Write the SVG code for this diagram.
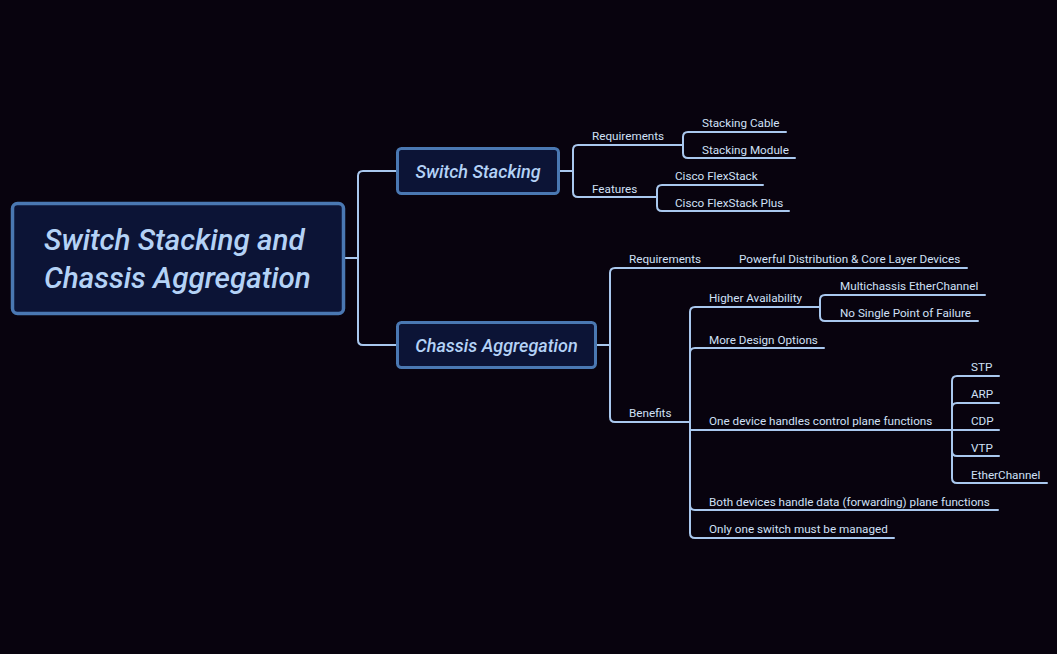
<svg xmlns="http://www.w3.org/2000/svg" width="1057" height="654" viewBox="0 0 1057 654">
<style>
.bg{fill:#08030e}
.root{fill:#0c1436;stroke:#4a78b2;stroke-width:3.5}
.main{fill:#0c1436;stroke:#4a78b2;stroke-width:3}
.rt{font-family:Roboto,"Liberation Sans",sans-serif;font-style:italic;font-weight:500;font-size:29.6px;fill:#b4d2f6}
.mt{font-family:Roboto,"Liberation Sans",sans-serif;font-style:italic;font-weight:500;font-size:18px;fill:#b4d2f6}
.t{font-family:Roboto,"Liberation Sans",sans-serif;font-size:11.7px;fill:#d0e0f6}
.c{fill:none;stroke:#a9c8ee;stroke-width:2;stroke-linecap:round;stroke-linejoin:round}
</style>
<rect class="bg" x="0" y="0" width="1057" height="654"/>
<g id="connectors">
<path class="c" d="M344,258 H358"/>
<path class="c" d="M358,258 V176 Q358,171 363,171 H397"/>
<path class="c" d="M358,258 V340 Q358,345 363,345 H397"/>
<path class="c" d="M559,171 H573"/>
<path class="c" d="M573,171 V150 Q573,145 578,145 H683"/>
<path class="c" d="M573,171 V192 Q573,197 578,197 H657"/>
<path class="c" d="M683,145 V137 Q683,132 688,132 H786"/>
<path class="c" d="M683,145 V153 Q683,158 688,158 H795"/>
<path class="c" d="M657,197 V190 Q657,185 662,185 H763"/>
<path class="c" d="M657,197 V206 Q657,211 662,211 H789"/>
<path class="c" d="M596,345 H610"/>
<path class="c" d="M610,345 V273 Q610,268 615,268 H967"/>
<path class="c" d="M610,345 V417 Q610,422 615,422 H690"/>
<path class="c" d="M690,422 V312 Q690,307 695,307 H820"/>
<path class="c" d="M690,422 V353 Q690,348 695,348 H824"/>
<path class="c" d="M690,422 V430 H952"/>
<path class="c" d="M690,422 V505 Q690,510 695,510 H998"/>
<path class="c" d="M690,422 V533 Q690,538 695,538 H894"/>
<path class="c" d="M820,307 V300 Q820,295 825,295 H985"/>
<path class="c" d="M820,307 V316 Q820,321 825,321 H978"/>
<path class="c" d="M952,430 V381 Q952,376 957,376 H999"/>
<path class="c" d="M952,430 V408 Q952,403 957,403 H999"/>
<path class="c" d="M952,430 H999"/>
<path class="c" d="M952,430 V451 Q952,456 957,456 H999"/>
<path class="c" d="M952,430 V478 Q952,483 957,483 H1047"/>
</g>
<g id="root">
<rect class="root" x="12.5" y="203.5" width="331" height="110" rx="5"/>
<text class="rt" x="44" y="250">Switch Stacking and</text>
<text class="rt" x="44" y="288">Chassis Aggregation</text>
</g>
<g id="switch-stacking">
<rect class="main" x="397.5" y="148.5" width="161" height="45" rx="4"/>
<text class="mt" x="478" y="177.5" text-anchor="middle">Switch Stacking</text>
</g>
<g id="chassis-aggregation">
<rect class="main" x="397.5" y="322.5" width="198" height="45" rx="4"/>
<text class="mt" x="496.5" y="351.5" text-anchor="middle">Chassis Aggregation</text>
</g>
<g id="ss-requirements"><text class="t" x="592" y="140">Requirements</text></g>
<g id="ss-stacking-cable"><text class="t" x="702" y="127">Stacking Cable</text></g>
<g id="ss-stacking-module"><text class="t" x="702" y="154">Stacking Module</text></g>
<g id="ss-features"><text class="t" x="592" y="193">Features</text></g>
<g id="ss-flexstack"><text class="t" x="675" y="180">Cisco FlexStack</text></g>
<g id="ss-flexstack-plus"><text class="t" x="675" y="207">Cisco FlexStack Plus</text></g>
<g id="ca-requirements"><text class="t" x="629" y="263">Requirements</text></g>
<g id="ca-powerful"><text class="t" x="739" y="263">Powerful Distribution &amp; Core Layer Devices</text></g>
<g id="ca-benefits"><text class="t" x="629" y="417">Benefits</text></g>
<g id="ca-higher"><text class="t" x="709" y="302">Higher Availability</text></g>
<g id="ca-mec"><text class="t" x="840" y="290">Multichassis EtherChannel</text></g>
<g id="ca-nspof"><text class="t" x="840" y="317">No Single Point of Failure</text></g>
<g id="ca-more"><text class="t" x="709" y="344">More Design Options</text></g>
<g id="ca-control"><text class="t" x="709" y="425">One device handles control plane functions</text></g>
<g id="ca-stp"><text class="t" x="971" y="371">STP</text></g>
<g id="ca-arp"><text class="t" x="971" y="398">ARP</text></g>
<g id="ca-cdp"><text class="t" x="971" y="425">CDP</text></g>
<g id="ca-vtp"><text class="t" x="971" y="452">VTP</text></g>
<g id="ca-etherchannel"><text class="t" x="971" y="479">EtherChannel</text></g>
<g id="ca-data"><text class="t" x="709" y="506">Both devices handle data (forwarding) plane functions</text></g>
<g id="ca-managed"><text class="t" x="709" y="533">Only one switch must be managed</text></g>
</svg>
